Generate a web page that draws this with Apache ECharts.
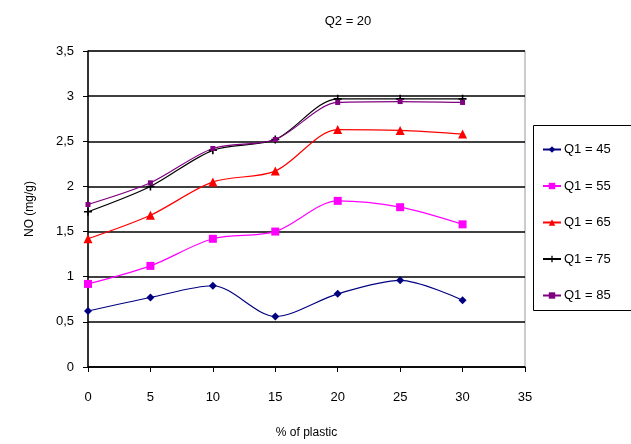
<!DOCTYPE html>
<html><head><meta charset="utf-8">
<script src="https://cdn.jsdelivr.net/npm/echarts@6/dist/echarts.min.js"></script>
<style>html,body{margin:0;padding:0;background:#fff}#c{width:631px;height:444px}</style>
</head><body><div id="c"></div>
<script>
const xValues = [0, 5, 10, 15, 20, 25, 30];
const q45 = [0.62, 0.77, 0.90, 0.56, 0.81, 0.96, 0.74];
const q55 = [0.92, 1.12, 1.42, 1.50, 1.84, 1.77, 1.58];
const q65 = [1.42, 1.68, 2.05, 2.17, 2.63, 2.62, 2.58];
const q75 = [1.72, 2.00, 2.40, 2.52, 2.97, 2.97, 2.97];
const q85 = [1.80, 2.04, 2.42, 2.52, 2.93, 2.94, 2.93];
const seriesNames = ['Q1 = 45', 'Q1 = 55', 'Q1 = 65', 'Q1 = 75', 'Q1 = 85'];
const titleText = 'Q2 = 20';

const pair = arr => arr.map((v, i) => [xValues[i], v]);
const font = 'Liberation Sans, Arial, sans-serif';
const crossPath = 'path://M4,0 L6,0 L6,4 L10,4 L10,6 L6,6 L6,10 L4,10 L4,6 L0,6 L0,4 L4,4 Z';
const styles = [
  {color: '#000080', symbol: 'diamond', size: 8},
  {color: '#ff00ff', symbol: 'rect', size: 8},
  {color: '#ff0000', symbol: 'triangle', size: 9},
  {color: '#000000', symbol: crossPath, size: 8},
  {color: '#800080', symbol: 'rect', size: 5}
];
const data = [q45, q55, q65, q75, q85];
const chart = echarts.init(document.getElementById('c'), null, {renderer: 'canvas'});
chart.setOption({
  animation: false,
  backgroundColor: '#fff',
  title: {text: titleText, left: 343, top: 10, textAlign: 'center',
    textStyle: {fontFamily: font, fontSize: 13, fontWeight: 'normal', color: '#000'}},
  grid: {left: 88, right: 106, top: 51, bottom: 74, show: true, borderColor: '#999', borderWidth: 1, backgroundColor: 'transparent'},
  xAxis: {type: 'value', min: 0, max: 35, interval: 5,
    name: '% of plastic', nameLocation: 'middle', nameGap: 60,
    nameTextStyle: {fontFamily: font, fontSize: 12, color: '#000'},
    axisLine: {show: true, onZero: false, lineStyle: {color: '#000', width: 1.5}},
    axisTick: {show: true, inside: false, length: 5, lineStyle: {color: '#000'}},
    axisLabel: {fontFamily: font, fontSize: 13, color: '#000', margin: 24},
    splitLine: {show: false}},
  yAxis: {type: 'value', min: 0, max: 3.5, interval: 0.5,
    name: 'NO (mg/g)', nameLocation: 'middle', nameGap: 52, nameRotate: 90,
    nameTextStyle: {fontFamily: font, fontSize: 12, color: '#000'},
    axisLine: {show: true, lineStyle: {color: '#000', width: 1.5}},
    axisTick: {show: true, inside: false, length: 5, lineStyle: {color: '#000'}},
    axisLabel: {fontFamily: font, fontSize: 13, color: '#000', margin: 14,
      formatter: v => String(v).replace('.', ',')},
    splitLine: {show: true, lineStyle: {color: '#000', width: 1.5}}},
  legend: {orient: 'vertical', left: 537, top: 138, itemGap: 23.5, itemWidth: 18, itemHeight: 8,
    data: seriesNames,
    textStyle: {fontFamily: font, fontSize: 13, color: '#000', padding: [0, 0, 0, -2]}},
  graphic: [{type: 'rect', shape: {x: 533.5, y: 125.5, width: 110, height: 185},
    style: {fill: 'none', stroke: '#000', lineWidth: 1}, z: 10}],
  series: data.map((d, i) => ({
    name: seriesNames[i], type: 'line', data: pair(d), smooth: 0.3,
    symbol: styles[i].symbol, symbolSize: styles[i].size,
    lineStyle: {color: styles[i].color, width: 1.2},
    itemStyle: {color: styles[i].color}
  }))
});
</script></body></html>
